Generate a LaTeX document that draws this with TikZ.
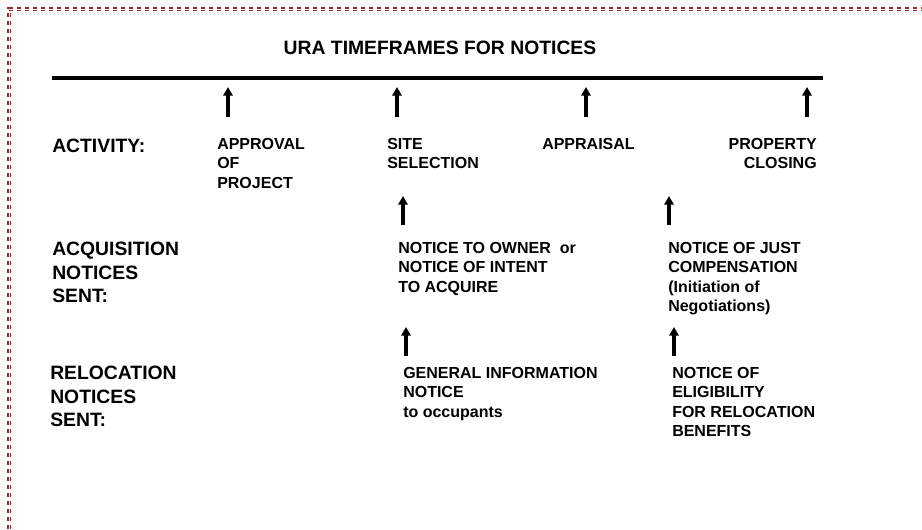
\documentclass[tikz,border=0pt]{standalone}
\usepackage{fontspec}
\setmainfont{Liberation Sans}
\usepackage{xcolor}
\definecolor{framered}{HTML}{9E2A2B}
\usepackage{tikz}
\usetikzlibrary{arrows.meta}
\newcommand{\labelfont}{\fontsize{14.5}{17.6}\selectfont\bfseries}
\newcommand{\entryfont}{\fontsize{12}{14.6}\selectfont\bfseries}
\tikzset{
    heading/.style={font=\labelfont, inner sep=0pt},
    rowlabel/.style={font=\labelfont, align=left, anchor=north west, inner sep=0pt},
    entry/.style={font=\entryfont, align=left, anchor=north west, inner sep=0pt},
    uparrow/.style={-{Triangle[length=6.5pt,width=7pt]}, line width=2.6pt},
    timeline/.style={line width=3pt},
    frameline/.style={draw=framered, line width=1pt, double, double distance=0.6pt, dash pattern=on 3.2pt off 2.8pt}
}

\begin{document}
\begin{tikzpicture}[x=0.75pt, y=-0.75pt]
  \useasboundingbox (0,0) rectangle (922,529);

  % Dashed page frame (top and left edge)
  \coordinate (frame-bl) at (9,529);
  \coordinate (frame-tl) at (9,9);
  \coordinate (frame-tr) at (922,9);
  \draw[frameline] (frame-bl) -- (frame-tl) -- (frame-tr);

  % Title and timeline
  \node[heading] (title) at (440,48) {URA TIMEFRAMES FOR NOTICES};
  \coordinate (tl-start) at (52,78);
  \coordinate (tl-end) at (823,78);
  \draw[timeline] (tl-start) -- (tl-end);

  % Activity row
  \node[rowlabel] (activity) at (52,139) {ACTIVITY:};
  \node[entry] (approval) at (217,138) {APPROVAL\\OF\\PROJECT};
  \node[entry] (site) at (387,138) {SITE\\SELECTION};
  \node[entry] (appraisal) at (542,138) {APPRAISAL};
  \node[entry, align=right, anchor=north east] (closing) at (817,138) {PROPERTY\\CLOSING};

  \foreach \name/\x in {approval/228, site/397, appraisal/586, closing/807} {
    \coordinate (\name-tail) at (\x,117);
    \coordinate (\name-tip) at (\x,87);
    \draw[uparrow] (\name-tail) -- (\name-tip);
  }

  % Acquisition notices row
  \node[rowlabel] (acq) at (52,242) {ACQUISITION\\NOTICES\\SENT:};
  \node[entry] (owner) at (398,242) {NOTICE TO OWNER\ \ or\\NOTICE OF INTENT\\TO ACQUIRE};
  \node[entry] (just) at (668,242) {NOTICE OF JUST\\COMPENSATION\\(Initiation of\\Negotiations)};

  \foreach \name/\x in {owner/403, just/669} {
    \coordinate (\name-tail) at (\x,225);
    \coordinate (\name-tip) at (\x,196);
    \draw[uparrow] (\name-tail) -- (\name-tip);
  }

  % Relocation notices row
  \node[rowlabel] (reloc) at (50,366) {RELOCATION\\NOTICES\\SENT:};
  \node[entry] (general) at (403,367) {GENERAL INFORMATION\\NOTICE\\to occupants};
  \node[entry] (elig) at (672,367) {NOTICE OF\\ELIGIBILITY\\FOR RELOCATION\\BENEFITS};

  \foreach \name/\x in {general/406, elig/674} {
    \coordinate (\name-tail) at (\x,356);
    \coordinate (\name-tip) at (\x,327);
    \draw[uparrow] (\name-tail) -- (\name-tip);
  }
\end{tikzpicture}
\end{document}
